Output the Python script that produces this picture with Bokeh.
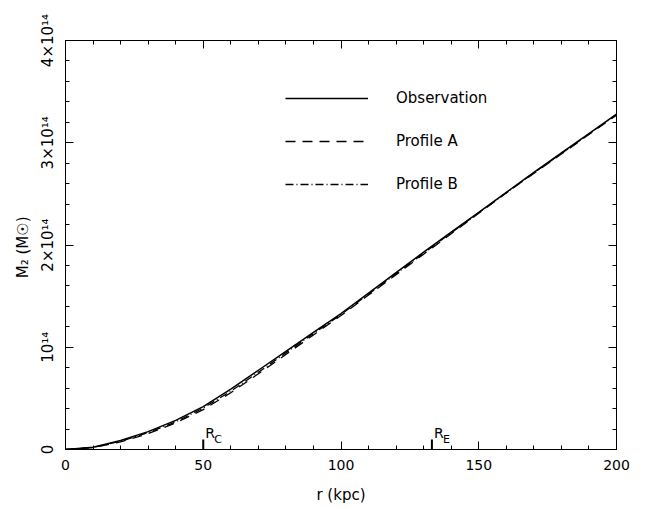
import math
from bokeh.plotting import figure
from bokeh.models import (Range1d, LinearAxis, SingleIntervalTicker, Legend,
                          LegendItem, CustomLabelingPolicy)
from bokeh.core.properties import value
from bokeh.embed import file_html
from bokeh.resources import INLINE

# ---- data (M in units of 1e14 solar masses) ----
r_kpc = [0, 10, 20, 30, 40, 50, 60, 70, 80, 90, 100, 110, 120, 130, 140,
         150, 160, 170, 180, 190, 200]
m_obs = [0, 0.022, 0.088, 0.175, 0.285, 0.42, 0.59, 0.775, 0.96, 1.145,
         1.33, 1.53, 1.73, 1.93, 2.125, 2.32, 2.515, 2.71, 2.90, 3.09, 3.28]
m_profA = [0, 0.018, 0.075, 0.155, 0.26, 0.39, 0.555, 0.74, 0.93, 1.12,
           1.31, 1.51, 1.71, 1.91, 2.11, 2.31, 2.51, 2.70, 2.89, 3.08, 3.27]
m_profB = [0, 0.02, 0.08, 0.165, 0.27, 0.405, 0.57, 0.755, 0.945, 1.135,
           1.32, 1.52, 1.72, 1.92, 2.12, 2.315, 2.51, 2.705, 2.895, 3.085, 3.275]
series_names = ["Observation", "Profile A", "Profile B"]

radii_marks = [50, 133]
radii_names = ["R", "R"]
radii_subs = ["C", "E"]

y_tick_labels = {0: "0", 1: "10\u00b9\u2074", 2: "2\u00d710\u00b9\u2074",
                 3: "3\u00d710\u00b9\u2074", 4: "4\u00d710\u00b9\u2074"}

FONT = "DejaVu Sans"

p = figure(width=637, height=509, output_backend="svg", toolbar_location=None,
           x_range=Range1d(0, 200), y_range=Range1d(0, 4),
           x_axis_location=None, y_axis_location=None,
           min_border_left=65, min_border_right=21, min_border_top=40,
           min_border_bottom=60)
p.grid.visible = False
p.outline_line_color = None
p.background_fill_color = "white"
p.border_fill_color = "white"

no_labels = "for (const i of [...indices]) indices.unset(i); return indices"


def style_axis(ax, labels=True):
    ax.axis_line_color = "black"
    ax.axis_line_width = 1
    ax.major_tick_in = 8
    ax.major_tick_out = 0
    ax.minor_tick_in = 4
    ax.minor_tick_out = 0
    ax.major_tick_line_color = "black"
    ax.minor_tick_line_color = "black"
    ax.major_label_text_font = FONT
    ax.major_label_text_font_size = "14px"
    ax.major_label_text_color = "black"
    ax.axis_label_text_font = FONT
    ax.axis_label_text_font_size = "15px"
    ax.axis_label_text_font_style = "normal"
    ax.axis_label_text_color = "black"
    if not labels:
        ax.major_label_policy = CustomLabelingPolicy(code=no_labels)
        ax.major_label_standoff = 0


xt = lambda: SingleIntervalTicker(interval=50, num_minor_ticks=5)
yt = lambda: SingleIntervalTicker(interval=1, num_minor_ticks=5)

xb = LinearAxis(ticker=xt(), axis_label="r (kpc)")
style_axis(xb)
xb.major_label_standoff = 10
xb.axis_label_standoff = 13
p.add_layout(xb, "below")

xa = LinearAxis(ticker=xt())
style_axis(xa, labels=False)
p.add_layout(xa, "above")

yl = LinearAxis(ticker=yt(), axis_label="M\u2082  (M\u2609)")
style_axis(yl)
yl.major_label_overrides = y_tick_labels
yl.major_label_orientation = "vertical"
yl.major_label_text_font_size = "15px"
yl.major_label_standoff = 9
yl.axis_label_standoff = 4
p.add_layout(yl, "left")

yr = LinearAxis(ticker=yt())
style_axis(yr, labels=False)
p.add_layout(yr, "right")

# ---- curves ----
r_obs = p.line(r_kpc, m_obs, line_color="black", line_width=1.5)
r_a = p.line(r_kpc, m_profA, line_color="black", line_width=1.3,
             line_dash="10 7")
r_b = p.line(r_kpc, m_profB, line_color="black", line_width=1.3,
             line_dash="8 3 1 3")

legend = Legend(items=[LegendItem(label=series_names[0], renderers=[r_obs]),
                       LegendItem(label=series_names[1], renderers=[r_a]),
                       LegendItem(label=series_names[2], renderers=[r_b])],
                location=(220, 255), orientation="vertical",
                glyph_width=83, glyph_height=20, label_height=20,
                spacing=23, label_standoff=28, padding=0, margin=0,
                border_line_alpha=0, background_fill_alpha=0,
                label_text_font=FONT, label_text_font_size="15px",
                label_text_color="black")
p.add_layout(legend, "center")

# ---- characteristic radii ----
p.ray(x=radii_marks, y=[0, 0], length=10, length_units="screen",
      angle=math.pi / 2, line_color="black", line_width=2)
p.text(x=radii_marks, y=[0, 0], text=radii_names, x_offset=2, y_offset=-17,
       text_font=value(FONT), text_font_size="14px", text_color="black",
       text_baseline="alphabetic", text_align="left")
p.text(x=radii_marks, y=[0, 0], text=radii_subs, x_offset=11, y_offset=-10,
       text_font=value(FONT), text_font_size="11px", text_color="black",
       text_baseline="alphabetic", text_align="left")

open("out.html", "w").write(file_html(p, INLINE))
